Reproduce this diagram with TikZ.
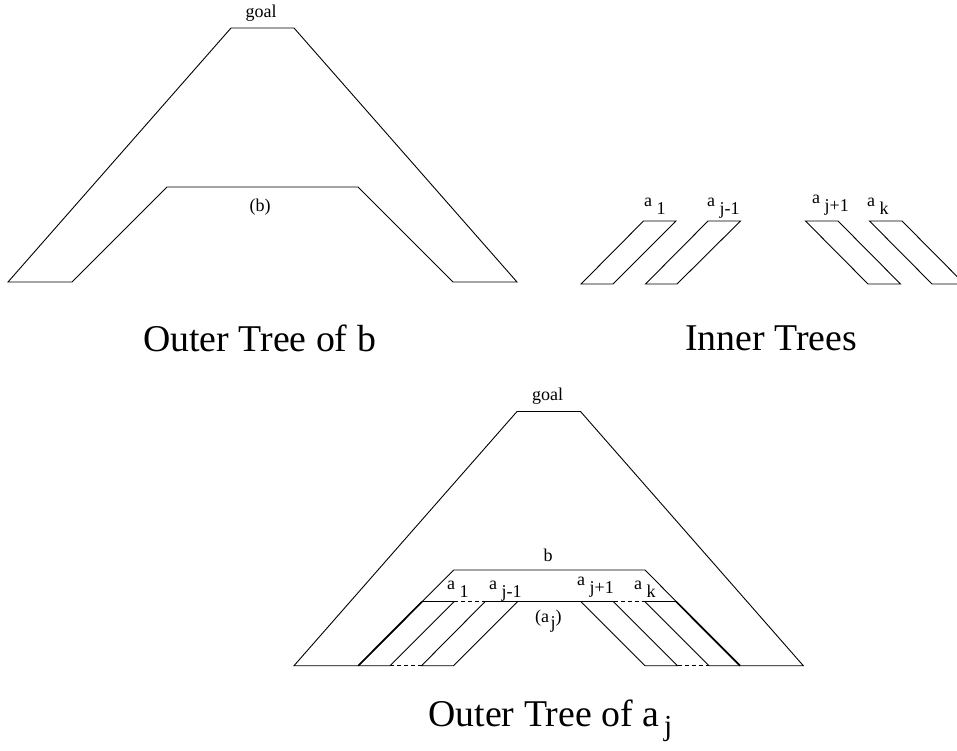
\documentclass[tikz,border=0pt]{standalone}
\usepackage{fontspec}
\setmainfont{Liberation Serif}
\newcommand\alab[1]{a \raisebox{-8pt}{#1}}
\begin{document}
\begin{tikzpicture}[x=1pt,y=-1pt, line join=miter,
  tree/.style={draw=black, line width=0.9pt},
  thk/.style={draw=black, line width=1.7pt},
  dsh/.style={draw=black, line width=0.9pt, dash pattern=on 4pt off 3pt},
  lbl/.style={inner sep=0pt, font=\fontsize{18}{20}\selectfont},
  captxt/.style={inner sep=0pt, font=\fontsize{37.8}{42}\selectfont}]
\useasboundingbox (0,0) rectangle (957,750);
\clip (0,0) rectangle (957,750);

% ---------- Outer tree of b ----------
\draw[tree] (8,282) -- (231,28) -- (294,28) -- (517,282) -- (453,282)
  -- (358,187) -- (167,187) -- (72,282) -- cycle;
\node[lbl, anchor=base] (goalA) at (261,17) {goal};
\node[lbl, anchor=base] (bA) at (260,211) {(b)};
\node[captxt, anchor=base west] (capA) at (143,351.5) {Outer Tree of b};

% ---------- Inner trees ----------
\draw[tree] (643.5,221) -- (676,221) -- (613,284) -- (581,284) -- cycle;
\draw[tree] (708,221) -- (740.5,221) -- (677,284) -- (645.5,284) -- cycle;
\draw[tree] (805.5,221) -- (838,221) -- (900.5,284) -- (868,284) -- cycle;
\draw[tree] (869.5,221) -- (902,221) -- (964.5,284) -- (932,284) -- cycle;
\node[lbl, anchor=base west] (i1) at (644,206) {\alab{1}};
\node[lbl, anchor=base west] (i2) at (707,206) {\alab{j-1}};
\node[lbl, anchor=base west] (i3) at (812,203) {\alab{j+1}};
\node[lbl, anchor=base west] (i4) at (867,206) {\alab{k}};
\node[captxt, anchor=base west] (capB) at (685,350) {Inner Trees};

% ---------- Outer tree of a_j ----------
\draw[tree] (294,665.7) -- (517,411.5) -- (580.5,411.5) -- (803.3,665.7) -- (740,665.7)
  -- (645,570) -- (453.7,570) -- (358.3,665.7) -- cycle;
% horizontal line of the inner roots
\draw[tree] (422,601.7) -- (454,601.7);
\draw[dsh]  (454,601.7) -- (485,601.7);
\draw[tree] (485,601.7) -- (613.5,601.7);
\draw[dsh]  (613.5,601.7) -- (645,601.7);
\draw[tree] (645,601.7) -- (676.2,601.7);
% inserted inner trees
\draw[thk]  (422,601.7) -- (358.3,665.7);
\draw[tree] (358.3,665.7) -- (390,665.7) -- (454,601.7);
\draw[dsh]  (390,665.7) -- (421.5,665.7);
\draw[tree] (485,601.7) -- (421.5,665.7) -- (453.5,665.7) -- (517.5,601.7);
\draw[tree] (581,601.7) -- (645,665.7) -- (677.5,665.7) -- (613.5,601.7);
\draw[dsh]  (677.5,665.7) -- (709,665.7);
\draw[tree] (645,601.7) -- (709,665.7) -- (740,665.7);
\draw[thk]  (676.2,601.7) -- (740,665.7);
\node[lbl, anchor=base] (goalC) at (547.5,400.5) {goal};
\node[lbl, anchor=base] (bC) at (548,561) {b};
\node[lbl, anchor=base west] (c1) at (447,589) {\alab{1}};
\node[lbl, anchor=base west] (c2) at (489,589) {\alab{j-1}};
\node[lbl, anchor=base west] (c3) at (577,585) {\alab{j+1}};
\node[lbl, anchor=base west] (c4) at (634,589) {\alab{k}};
\node[lbl, anchor=base west] (ajC) at (535,622) {(a\hspace{1.5pt}\raisebox{-6pt}{j})};
\node[captxt, anchor=base west] (capC) at (428.3,726.7) {Outer Tree of a\hspace{5pt}\raisebox{-9pt}{\fontsize{29}{30}\selectfont j}};
\end{tikzpicture}
\end{document}
